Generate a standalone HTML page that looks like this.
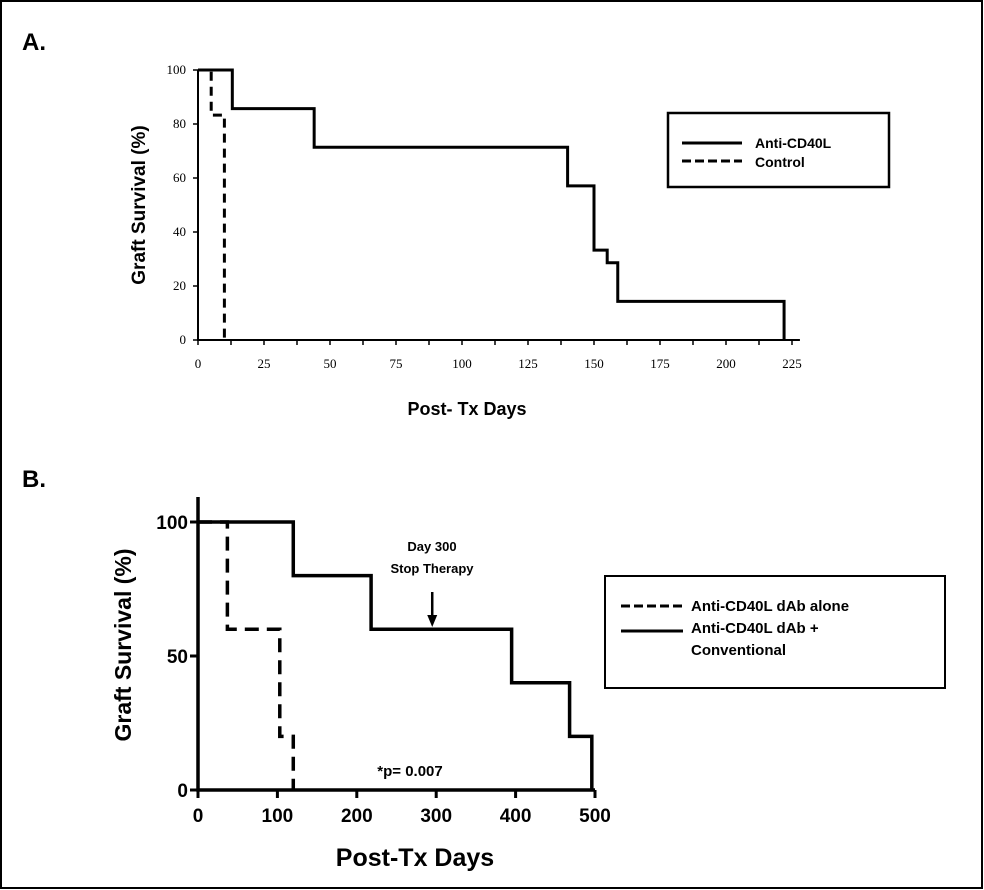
<!DOCTYPE html>
<html><head><meta charset="utf-8"><style>
body{margin:0;background:#fff;}
svg{display:block;}
</style></head><body>
<svg width="984" height="890" xmlns="http://www.w3.org/2000/svg">
<rect x="1" y="1" width="981" height="887" fill="#fff" stroke="#000" stroke-width="2"/>
<text x="22" y="50" font-family="Liberation Sans, sans-serif" font-weight="bold" font-size="24">A.</text>
<text x="22" y="487" font-family="Liberation Sans, sans-serif" font-weight="bold" font-size="24">B.</text>
<g id="chartA"></g>
<g id="chartB"></g>
</svg>
<script>
// Chart A data
const aTicksX = [0,25,50,75,100,125,150,175,200,225];
const aTicksY = [0,20,40,60,80,100];
const aSolidDays = [0,13,44,45,140,150,155,159,222];
const aSolidVals = [100,85.7,71.4,71.4,57.1,33.3,28.6,14.3,0];
const aCtrlDays = [0,5,8,10];
const aCtrlVals = [100,83.3,83.3,0];
// Chart B data
const bTicksX = [0,100,200,300,400,500];
const bTicksY = [0,50,100];
const bDashDays = [0,37,103,120];
const bDashVals = [100,60,20,0];
const bSolidDays = [0,120,218,395,468,496];
const bSolidVals = [100,80,60,40,20,0];
const bArrowDay = [295];
const NS="http://www.w3.org/2000/svg";
function el(p,t,a){const e=document.createElementNS(NS,t);for(const k in a)e.setAttribute(k,a[k]);p.appendChild(e);return e;}
function stepPath(days,vals,sx,sy,end){let d=`M${sx(days[0])},${sy(vals[0])}`;for(let i=1;i<days.length;i++){d+=` L${sx(days[i])},${sy(vals[i-1])} L${sx(days[i])},${sy(vals[i])}`;}if(end!==undefined)d+=` L${sx(end)},${sy(vals[vals.length-1])}`;return d;}

// ---- Chart A
const gA=document.getElementById('chartA');
const ax=d=>198+d*(792-198)/225, ay=v=>340-v*(340-70)/100;
let axl=el(gA,'path',{d:`M${ax(0)},${ay(100)} L${ax(0)},${ay(0)} L${ax(228)},${ay(0)}`,fill:'none',stroke:'#000','stroke-width':2});


for(let i=0;i<=18;i++){const d=i*12.5;el(gA,'line',{x1:ax(d),x2:ax(d),y1:ay(0),y2:ay(0)+5,stroke:'#000','stroke-width':1.5});}
aTicksX.forEach(t=>{const e=el(gA,'text',{x:ax(t),y:368,'text-anchor':'middle','font-family':'Liberation Serif, serif','font-size':13});e.textContent=t;

});
aTicksY.forEach(t=>{el(gA,'line',{x1:ax(0)-5,x2:ax(0),y1:ay(t),y2:ay(t),stroke:'#000','stroke-width':1.5});const e=el(gA,'text',{x:ax(0)-12,y:ay(t)+4,'text-anchor':'end','font-family':'Liberation Serif, serif','font-size':13});e.textContent=t;

});
let s=el(gA,'path',{d:stepPath(aSolidDays,aSolidVals,ax,ay),fill:'none',stroke:'#000','stroke-width':3});


s=el(gA,'path',{d:stepPath(aCtrlDays,aCtrlVals,ax,ay),fill:'none',stroke:'#000','stroke-width':3,'stroke-dasharray':'9,6'});


let t=el(gA,'text',{x:0,y:0,transform:'translate(145,205) rotate(-90)','text-anchor':'middle','font-family':'Liberation Sans, sans-serif','font-weight':'bold','font-size':19});t.textContent='Graft Survival (%)';


t=el(gA,'text',{x:467,y:415,'text-anchor':'middle','font-family':'Liberation Sans, sans-serif','font-weight':'bold','font-size':18});t.textContent='Post- Tx Days';


let lg=el(gA,'g',{});


el(lg,'rect',{x:668,y:113,width:221,height:74,fill:'#fff',stroke:'#000','stroke-width':2.5});
el(lg,'line',{x1:682,x2:742,y1:143,y2:143,stroke:'#000','stroke-width':3});
el(lg,'line',{x1:682,x2:742,y1:161,y2:161,stroke:'#000','stroke-width':3,'stroke-dasharray':'9,4'});
t=el(lg,'text',{x:755,y:148,'font-family':'Liberation Sans, sans-serif','font-weight':'bold','font-size':14});t.textContent='Anti-CD40L';


t=el(lg,'text',{x:755,y:167,'font-family':'Liberation Sans, sans-serif','font-weight':'bold','font-size':14});t.textContent='Control';



// ---- Chart B
const gB=document.getElementById('chartB');
const bx=d=>198+d*(595-198)/500, by=v=>790-v*(790-522)/100;
axl=el(gB,'path',{d:`M${bx(0)},497 L${bx(0)},${by(0)} L${bx(500)},${by(0)}`,fill:'none',stroke:'#000','stroke-width':3.5});


bTicksX.forEach(v=>{el(gB,'line',{x1:bx(v),x2:bx(v),y1:by(0),y2:by(0)+8,stroke:'#000','stroke-width':3});const e=el(gB,'text',{x:bx(v),y:822,'text-anchor':'middle','font-family':'Liberation Sans, sans-serif','font-weight':'bold','font-size':19});e.textContent=v;

});
bTicksY.forEach(v=>{el(gB,'line',{x1:bx(0)-8,x2:bx(0),y1:by(v),y2:by(v),stroke:'#000','stroke-width':3});const e=el(gB,'text',{x:bx(0)-10,y:by(v)+7,'text-anchor':'end','font-family':'Liberation Sans, sans-serif','font-weight':'bold','font-size':19});e.textContent=v;

});
s=el(gB,'path',{d:stepPath(bSolidDays,bSolidVals,bx,by),fill:'none',stroke:'#000','stroke-width':3.5});


s=el(gB,'path',{d:stepPath(bDashDays,bDashVals,bx,by),fill:'none',stroke:'#000','stroke-width':3.5,'stroke-dasharray':'14,8'});


let ar=el(gB,'g',{});


const axp=bx(bArrowDay[0]);
el(ar,'line',{x1:axp,x2:axp,y1:592,y2:618,stroke:'#000','stroke-width':2.5});
el(ar,'path',{d:`M${axp-5},615 L${axp+5},615 L${axp},627 Z`,fill:'#000'});
t=el(gB,'text',{x:432,y:551,'text-anchor':'middle','font-family':'Liberation Sans, sans-serif','font-weight':'bold','font-size':13});t.textContent='Day 300';


t=el(gB,'text',{x:432,y:573,'text-anchor':'middle','font-family':'Liberation Sans, sans-serif','font-weight':'bold','font-size':13});t.textContent='Stop Therapy';


t=el(gB,'text',{x:410,y:776,'text-anchor':'middle','font-family':'Liberation Sans, sans-serif','font-weight':'bold','font-size':15});t.textContent='*p= 0.007';


t=el(gB,'text',{x:0,y:0,transform:'translate(131,645) rotate(-90)','text-anchor':'middle','font-family':'Liberation Sans, sans-serif','font-weight':'bold','font-size':23});t.textContent='Graft Survival (%)';


t=el(gB,'text',{x:415,y:866,'text-anchor':'middle','font-family':'Liberation Sans, sans-serif','font-weight':'bold','font-size':25});t.textContent='Post-Tx Days';


lg=el(gB,'g',{});


el(lg,'rect',{x:605,y:576,width:340,height:112,fill:'#fff',stroke:'#000','stroke-width':2});
el(lg,'line',{x1:621,x2:683,y1:606,y2:606,stroke:'#000','stroke-width':3,'stroke-dasharray':'9,4'});
el(lg,'line',{x1:621,x2:683,y1:631,y2:631,stroke:'#000','stroke-width':3});
t=el(lg,'text',{x:691,y:611,'font-family':'Liberation Sans, sans-serif','font-weight':'bold','font-size':15});t.textContent='Anti-CD40L dAb alone';


t=el(lg,'text',{x:691,y:633,'font-family':'Liberation Sans, sans-serif','font-weight':'bold','font-size':15});t.textContent='Anti-CD40L dAb +';


t=el(lg,'text',{x:691,y:655,'font-family':'Liberation Sans, sans-serif','font-weight':'bold','font-size':15});t.textContent='Conventional';


</script>
</body></html>
